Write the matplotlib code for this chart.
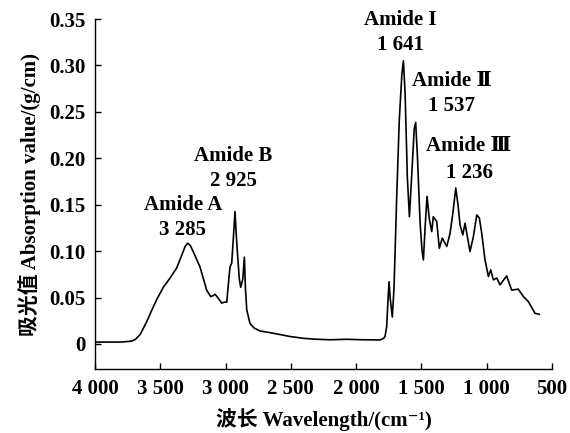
import matplotlib
matplotlib.use("Agg")
import matplotlib.pyplot as plt

plt.rcParams['font.family'] = ['Liberation Serif', 'DejaVu Serif', 'Noto Sans CJK SC']
plt.rcParams['font.weight'] = 'bold'
plt.rcParams['axes.labelweight'] = 'bold'

# wavenumber (cm-1) and absorbance
wavenumber = [4000, 3900, 3800, 3720, 3690, 3655, 3604, 3560, 3527, 3477, 3420, 3374,
              3340, 3310, 3290, 3270, 3240, 3196, 3145, 3114, 3095, 3081, 3060, 3030,
              3010, 2991, 2975, 2966, 2953, 2940, 2928, 2915, 2895, 2884, 2868, 2856,
              2848, 2838, 2813, 2780, 2736, 2634, 2506, 2400, 2300, 2200, 2072, 1950,
              1817, 1790, 1779, 1766, 1755, 1748, 1740, 1723, 1710, 1690, 1670, 1650,
              1638, 1625, 1608, 1592, 1575, 1555, 1544, 1530, 1510, 1495, 1485, 1470,
              1457, 1440, 1421, 1409, 1383, 1363, 1340, 1306, 1281, 1260, 1237, 1220,
              1204, 1183, 1166, 1128, 1102, 1076, 1056, 1038, 1013, 987, 969, 949,
              923, 898, 847, 809, 758, 719, 681, 650, 630, 597]
absorbance = [0.002, 0.002, 0.002, 0.003, 0.005, 0.010, 0.024, 0.038, 0.048, 0.061, 0.072, 0.082,
              0.094, 0.105, 0.1085, 0.106, 0.097, 0.083, 0.058, 0.051, 0.052, 0.0536, 0.050, 0.044,
              0.045, 0.045, 0.070, 0.083, 0.087, 0.115, 0.1426, 0.110, 0.070, 0.061, 0.070, 0.0935,
              0.060, 0.037, 0.022, 0.017, 0.014, 0.0115, 0.008, 0.006, 0.005, 0.0045, 0.005, 0.0045,
              0.0043, 0.006, 0.008, 0.019, 0.050, 0.067, 0.050, 0.029, 0.060, 0.155, 0.240, 0.290,
              0.305, 0.270, 0.180, 0.137, 0.180, 0.232, 0.2386, 0.200, 0.130, 0.100, 0.0905, 0.130,
              0.159, 0.135, 0.121, 0.137, 0.132, 0.103, 0.114, 0.105, 0.119, 0.140, 0.168, 0.150,
              0.128, 0.1175, 0.130, 0.0995, 0.1157, 0.139, 0.1355, 0.119, 0.0905, 0.0726, 0.0798, 0.069,
              0.071, 0.0636, 0.0733, 0.058, 0.059, 0.051, 0.0456, 0.038, 0.033, 0.032]

xticks = [4000, 3500, 3000, 2500, 2000, 1500, 1000, 500]
xticklabels = ["4 000", "3 500", "3 000", "2 500", "2 000", "1 500", "1 000", "500"]
yticks = [0, 0.05, 0.10, 0.15, 0.20, 0.25, 0.30, 0.35]
yticklabels = ["0", "0.05", "0.10", "0.15", "0.20", "0.25", "0.30", "0.35"]

# peak labels: (name, number, x, y of name line, y of number line)
peaks = [("Amide A", "3 285", 3328, 0.150, 0.123),
         ("Amide B", "2 925", 2943, 0.202, 0.175),
         ("Amide I", "1 641", 1664, 0.349, 0.322),
         ("Amide Ⅱ", "1 537", 1268, 0.283, 0.256),
         ("Amide Ⅲ", "1 236", 1135, 0.213, 0.184)]

fig = plt.figure(figsize=(5.7, 4.33), dpi=100)
ax = fig.add_axes([0.1667, 0.1478, 0.8017, 0.8083])

ax.plot(wavenumber, absorbance, color='black', lw=1.2)

ax.set_xlim(4000, 500)
ax.set_ylim(-0.027, 0.35)
ax.set_xticks(xticks)
ax.set_xticklabels(xticklabels)
ax.set_yticks(yticks)
ax.set_yticklabels(yticklabels)
ax.tick_params(direction='in', length=4, width=1, labelsize=15, pad=7)

for s in ['top', 'right']:
    ax.spines[s].set_visible(False)
for s in ['left', 'bottom']:
    ax.spines[s].set_linewidth(1)

for name, num, x, y1, y2 in peaks:
    ax.text(x, y1, name, ha='center', va='center', fontsize=15)
    ax.text(x, y2, num, ha='center', va='center', fontsize=15)

ax.set_xlabel("波长 Wavelength/(cm⁻¹)", fontsize=15, labelpad=7)
ax.set_ylabel("吸光值 Absorption value/(g/cm)", fontsize=15, labelpad=6)

fig.savefig("out.png", dpi=100)
